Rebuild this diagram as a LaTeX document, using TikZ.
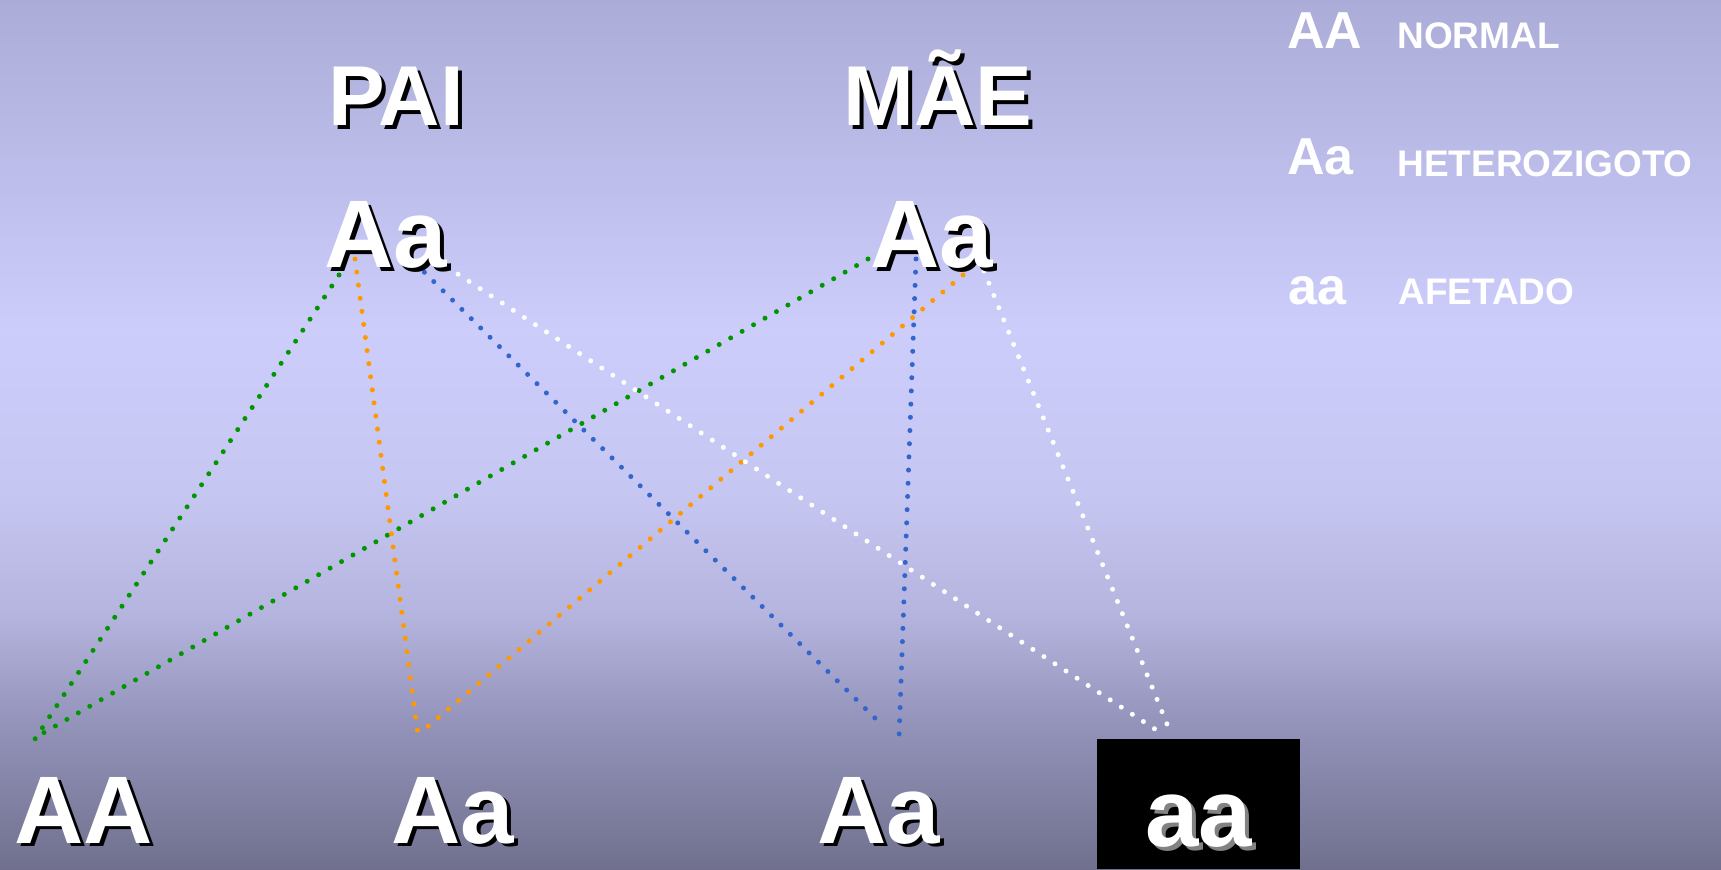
\documentclass[tikz,border=0pt]{standalone}
\usepackage{fontspec}
\setmainfont{Liberation Sans}
\usepackage{tikz}

\definecolor{bgtop}{RGB}{172,172,216}
\definecolor{bglight}{RGB}{205,205,252}
\definecolor{bgb}{RGB}{198,198,242}
\definecolor{bgc}{RGB}{180,180,222}
\definecolor{bgd}{RGB}{150,150,190}
\definecolor{bgbot}{RGB}{112,112,142}
\definecolor{verde}{RGB}{0,150,0}
\definecolor{laranja}{RGB}{255,153,0}
\definecolor{azul}{RGB}{51,102,204}
\definecolor{cinza}{RGB}{130,130,130}

\pgfdeclareverticalshading{fundo}{100bp}{color(0bp)=(bgbot); color(25bp)=(bgbot); color(34bp)=(bgd); color(39.6bp)=(bgc); color(46.6bp)=(bgb); color(56bp)=(bglight); color(75bp)=(bgtop); color(100bp)=(bgtop)}

\newcommand{\sombra}[2][black]{\makebox[0pt][l]{\hspace{2pt}\raisebox{-2pt}{\textcolor{#1}{#2}}}#2}

\tikzset{
  titulo/.style={text=white, inner sep=0pt, anchor=base, font=\fontsize{42.5}{42.5}\selectfont\bfseries},
  gene/.style={text=white, inner sep=0pt, anchor=base, font=\fontsize{48}{48}\selectfont\bfseries},
  legenda/.style={text=white, inner sep=0pt, anchor=base west, font=\fontsize{26}{26}\selectfont\bfseries},
  rotulo/.style={text=white, inner sep=0pt, anchor=base west, font=\fontsize{18.5}{18.5}\selectfont\bfseries},
  elo/.style={line width=2.5pt, dash pattern=on 0pt off 6.6pt, line cap=round},
}

\begin{document}
\begin{tikzpicture}[x=0.5pt, y=0.5pt]
% Fundo
\useasboundingbox (0,0) rectangle (1721,869);
\shade[shading=fundo] (0,0) rectangle (1721,869);

% Pontos de ligacao
\coordinate (paiA1) at (339,594);
\coordinate (paiA2) at (355,610);
\coordinate (paia1) at (415,606);
\coordinate (paia2) at (447,602);
\coordinate (maeA1) at (868,610);
\coordinate (maeA2) at (916,610);
\coordinate (maea1) at (963,594);
\coordinate (maea2) at (984,598);
\coordinate (fAA1) at (35,130);
\coordinate (fAA2) at (38,133);
\coordinate (fAa1) at (418,134);
\coordinate (fAa2) at (420,136);
\coordinate (fAb1) at (883,143);
\coordinate (fAb2) at (899,130);
\coordinate (faa1) at (1161,136);
\coordinate (faa2) at (1169,140);

% Ligacoes
\draw[elo, verde] (paiA1) -- (fAA1);
\draw[elo, verde] (maeA1) -- (fAA2);
\draw[elo, laranja] (paiA2) -- (fAa1);
\draw[elo, laranja] (maea1) -- (fAa2);
\draw[elo, azul] (paia1) -- (fAb1);
\draw[elo, azul] (maeA2) -- (fAb2);
\draw[elo, white] (paia2) -- (faa1);
\draw[elo, white] (maea2) -- (faa2);

% Pais
\node[titulo] (pai) at (396,743) {\sombra{PAI}};
\node[titulo] (mae) at (938,743) {\sombra{MÃE}};
\node[gene] (paiAa) at (386,601) {\sombra{Aa}};
\node[gene] (maeAa) at (932,601) {\sombra{Aa}};

% Filhos
\node[gene] (filho1) at (84,26) {\sombra{AA}};
\node[gene] (filho2) at (453,26) {\sombra{Aa}};
\node[gene] (filho3) at (879,26) {\sombra{Aa}};
\node[gene, anchor=south, fill=black, minimum width=101.5pt, minimum height=65pt, text height=43pt, text depth=0pt] (filho4) at (1198.5,0) {\sombra[cinza]{aa}};

% Legenda
\node[legenda] (legAA) at (1287,820) {AA};
\node[legenda] (legAa) at (1287,694) {Aa};
\node[legenda] (legaa) at (1288,564) {aa};
\node[rotulo] (normal) at (1397,820) {NORMAL};
\node[rotulo] (hetero) at (1397,692) {HETEROZIGOTO};
\node[rotulo] (afetado) at (1398,564) {AFETADO};
\end{tikzpicture}
\end{document}
